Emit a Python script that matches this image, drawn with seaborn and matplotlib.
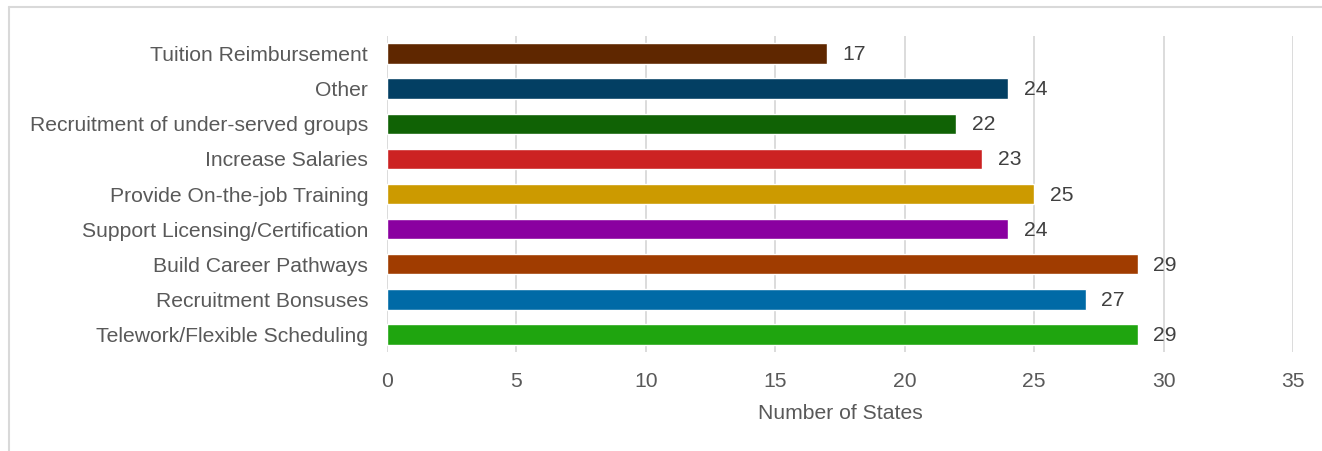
import matplotlib
matplotlib.use("Agg")
import matplotlib.pyplot as plt
import seaborn as sns
import pandas as pd
from matplotlib.lines import Line2D

categories = [
    "Tuition Reimbursement",
    "Other",
    "Recruitment of under-served groups",
    "Increase Salaries",
    "Provide On-the-job Training",
    "Support Licensing/Certification",
    "Build Career Pathways",
    "Recruitment Bonsuses",
    "Telework/Flexible Scheduling",
]
values = [17, 24, 22, 23, 25, 24, 29, 27, 29]
colors = ["#5f2700", "#033f63", "#106205", "#cc2222", "#cc9a00",
          "#8a00a0", "#a03c00", "#006aa6", "#1fa50f"]
xticks = [0, 5, 10, 15, 20, 25, 30, 35]

sns.set_theme(style="white")
plt.rcParams["font.family"] = ["Liberation Sans", "DejaVu Sans"]

FS = 15.2
df = pd.DataFrame({"cat": categories, "val": values})

fig = plt.figure(figsize=(13.22, 4.51), dpi=100)
ax = fig.add_axes([387/1322, 1-352/451, (1293-387)/1322, (352-36)/451])

sns.barplot(data=df, x="val", y="cat", hue="cat", palette=colors, legend=False,
            width=0.58, ax=ax, saturation=1, zorder=3)

ax.set_xlim(0, 35)
ax.set_xticks(xticks)
ax.set_xticklabels([str(t) for t in xticks])
ax.grid(axis="x", color="#d9d9d9", linewidth=1.3, zorder=0)
ax.grid(axis="y", visible=False)
for s in ax.spines.values():
    s.set_visible(False)
ax.tick_params(axis="both", length=0, labelsize=FS, colors="#595959")
ax.tick_params(axis="y", pad=13.5)
ax.tick_params(axis="x", pad=14.5)
ax.set_ylabel("")
ax.set_xlabel("Number of States", fontsize=FS, color="#595959", labelpad=9)

for i, v in enumerate(values):
    ax.text(v + 0.6, i + 0.03, str(v), va="center", ha="left", fontsize=FS, color="#404040")

# outer chart frame
fig.add_artist(Line2D([9/1322, 9/1322], [0, 1-7/451], transform=fig.transFigure,
                      color="#d9d9d9", linewidth=1.5))
fig.add_artist(Line2D([9/1322, 1], [1-7/451, 1-7/451], transform=fig.transFigure,
                      color="#d9d9d9", linewidth=1.5))

fig.savefig("out.png", dpi=100, facecolor="white")
